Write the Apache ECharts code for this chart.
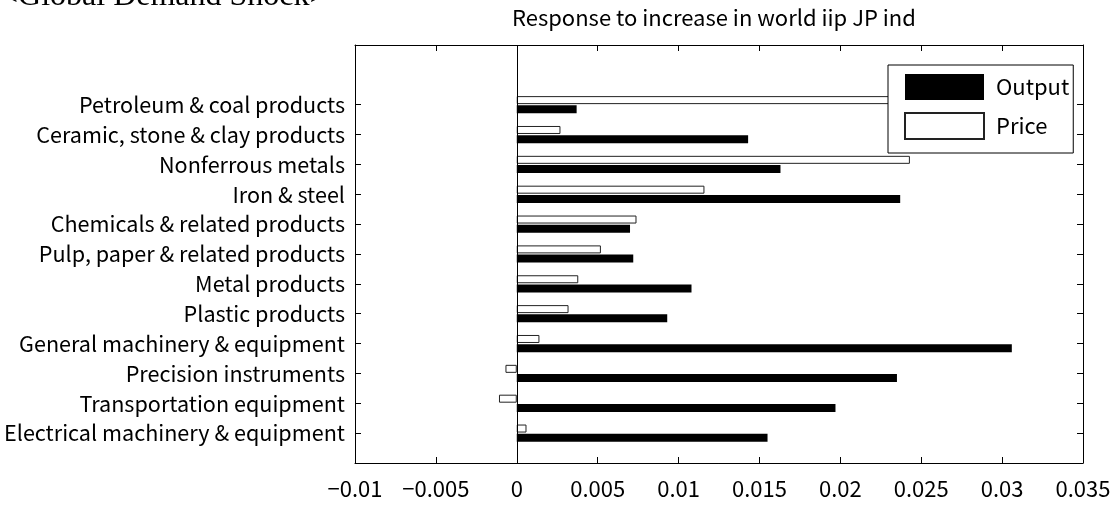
<!DOCTYPE html>
<html>
<head>
<meta charset="utf-8">
<script src="https://cdn.jsdelivr.net/npm/echarts@6/dist/echarts.min.js"></script>
<style>
  html, body { margin: 0; padding: 0; background: #fff; }
  #chart { width: 1113px; height: 506px; }
</style>
</head>
<body>
<div id="chart"></div>
<script>
// ======================
// DATA (top-to-bottom as in the picture)
// ======================
const industries = [
    'Petroleum & coal products',
    'Ceramic, stone & clay products',
    'Nonferrous metals',
    'Iron & steel',
    'Chemicals & related products',
    'Pulp, paper & related products',
    'Metal products',
    'Plastic products',
    'General machinery & equipment',
    'Precision instruments',
    'Transportation equipment',
    'Electrical machinery & equipment'
];
const outputValues = [0.0037, 0.0143, 0.0163, 0.0237, 0.0070, 0.0072, 0.0108, 0.0093, 0.0306, 0.0235, 0.0197, 0.0155];
const priceValues  = [0.0270, 0.0027, 0.0243, 0.0116, 0.0074, 0.0052, 0.0038, 0.0032, 0.0014, -0.0007, -0.0011, 0.0006];
const xTicks = { min: -0.01, max: 0.035, step: 0.005 };

const FONT = '"Noto Sans CJK JP", "Noto Sans", sans-serif';
const FS = 22;

// y axis runs 0..14, industries sit on 1..12 (bottom to top)
const yCats = ['', ...industries.slice().reverse(), '', ''];
const pad = arr => ['-', ...arr.slice().reverse(), '-', '-'];
const showIdx = idx => idx >= 1 && idx <= industries.length;

const fmtX = v => {
    const r = +v.toFixed(3);
    return r < 0 ? '\u2212' + Math.abs(r) : String(r);
};

const chart = echarts.init(document.getElementById('chart'));

const baseX = {
    type: 'value',
    min: xTicks.min,
    max: xTicks.max,
    interval: xTicks.step,
    axisLine: { show: true, onZero: false, lineStyle: { color: '#000', width: 1 } },
    axisTick: { show: true, inside: true, length: 6, lineStyle: { color: '#000' } },
    splitLine: { show: false }
};
const baseY = {
    type: 'category',
    data: yCats,
    boundaryGap: false,
    axisLine: { show: true, onZero: false, lineStyle: { color: '#000', width: 1 } },
    axisTick: { show: true, inside: true, length: 6, interval: showIdx, lineStyle: { color: '#000' } },
    splitLine: { show: false }
};

chart.setOption({
    animation: false,
    textStyle: { fontFamily: FONT },
    title: {
        text: 'Response to increase in world iip JP ind',
        left: 512,
        top: 7,
        padding: 0,
        textStyle: { fontFamily: FONT, fontSize: FS, fontWeight: 'normal', color: '#000' }
    },
    graphic: [{
        type: 'text',
        left: 0,
        top: -19,
        style: {
            text: '<Global Demand Shock>',
            font: '32px "Liberation Serif", "Times New Roman", serif',
            fill: '#000'
        }
    }],
    legend: {
        orient: 'vertical',
        left: 888,
        top: 65,
        data: ['Output', 'Price'],
        icon: 'rect',
        itemWidth: 79,
        itemHeight: 26,
        itemGap: 12,
        padding: [9, 4, 13, 16],
        backgroundColor: '#fff',
        borderColor: '#000',
        borderWidth: 1,
        textStyle: { fontFamily: FONT, fontSize: FS, color: '#000', padding: [0, 0, 0, 7] }
    },
    grid: { left: 355, right: 30, top: 45, bottom: 43, show: false, containLabel: false, outerBoundsMode: 'none' },
    xAxis: [
        Object.assign({}, baseX, {
            position: 'bottom',
            axisLabel: { fontFamily: FONT, fontSize: FS, color: '#000', margin: 15, formatter: fmtX }
        }),
        Object.assign({}, baseX, { position: 'top', axisLabel: { show: false } })
    ],
    yAxis: [
        Object.assign({}, baseY, {
            position: 'left',
            axisLabel: { fontFamily: FONT, fontSize: 21.6, color: '#000', margin: 10, interval: showIdx }
        }),
        Object.assign({}, baseY, { position: 'right', axisLabel: { show: false } })
    ],
    // Price listed first so it sits above Output within each row
    series: [
        {
            name: 'Price',
            type: 'bar',
            data: pad(priceValues),
            barWidth: 8,
            barGap: '15%',
            itemStyle: { color: '#fff', borderColor: '#222', borderWidth: 1 }
        },
        {
            name: 'Output',
            type: 'bar',
            data: pad(outputValues),
            barWidth: 8,
            barGap: '15%',
            itemStyle: { color: '#000', borderColor: '#000', borderWidth: 0 },
            markLine: {
                silent: true,
                symbol: 'none',
                label: { show: false },
                lineStyle: { color: '#000', type: 'solid', width: 1 },
                data: [{ xAxis: 0 }]
            }
        }
    ]
});
</script>
</body>
</html>
